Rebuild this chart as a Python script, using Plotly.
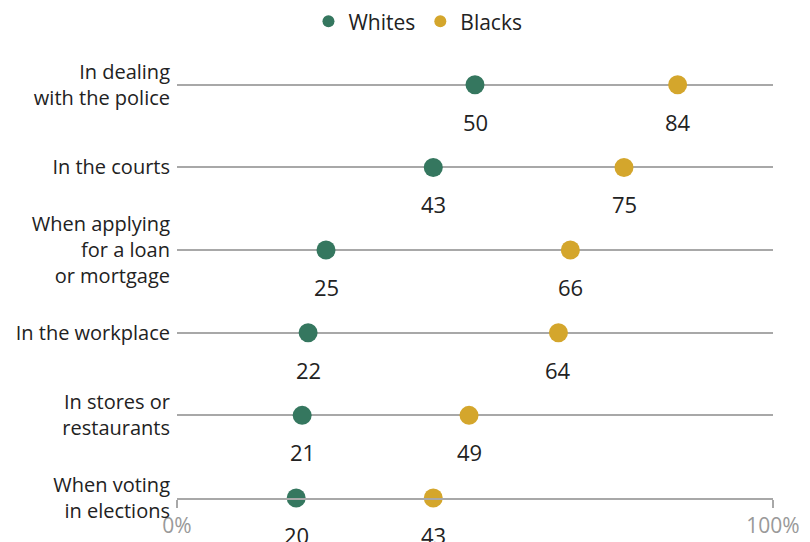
import plotly.graph_objects as go

categories = [
    "In dealing<br>with the police",
    "In the courts",
    "When applying<br>for a loan<br>or mortgage",
    "In the workplace",
    "In stores or<br>restaurants",
    "When voting<br>in elections",
]
whites = [50, 43, 25, 22, 21, 20]
blacks = [84, 75, 66, 64, 49, 43]
x_ticks = [0, 100]
x_ticklabels = ["0%", "100%"]

GREEN = "#35775F"
GOLD = "#D4A62C"
FONT = "Open Sans"

n = len(categories)
ypos = [n - 1 - i for i in range(n)]

fig = go.Figure()
fig.add_trace(go.Scatter(
    x=whites, y=ypos, mode="markers", name="Whites",
    marker=dict(color=GREEN, size=19), cliponaxis=False,
))
fig.add_trace(go.Scatter(
    x=blacks, y=ypos, mode="markers", name="Blacks",
    marker=dict(color=GOLD, size=19), cliponaxis=False,
))

annotations = []
for vals in (whites, blacks):
    for v, y in zip(vals, ypos):
        annotations.append(dict(
            x=v, y=y, text=str(v), showarrow=False, yshift=-37,
            font=dict(family=FONT, size=22, color="#222"),
        ))

fig.update_layout(
    width=810, height=542,
    margin=dict(l=177, r=37, t=60, b=44, autoexpand=False),
    plot_bgcolor="white", paper_bgcolor="white",
    font=dict(family=FONT, size=20, color="#222"),
    showlegend=True,
    legend=dict(
        orientation="h", xref="container", yref="container",
        x=0.516, y=0.96, xanchor="center", yanchor="middle",
        font=dict(size=21, color="#222"), itemwidth=30,
        itemsizing="constant",
    ),
    annotations=annotations,
)
fig.update_xaxes(
    range=[0, 100], tickvals=x_ticks, ticktext=x_ticklabels,
    showgrid=False, zeroline=False, showline=True, linecolor="#A8A8A8",
    linewidth=2, ticks="outside", ticklen=8, tickwidth=2, tickcolor="#A8A8A8",
    tickfont=dict(color="#999999", size=21, family=FONT), automargin=False,
)
fig.update_yaxes(
    range=[0, 5.3], tickvals=ypos, ticktext=categories,
    showgrid=True, gridcolor="#A8A8A8", gridwidth=2, zeroline=False,
    showline=False, ticks="", ticklabelstandoff=6,
    automargin=False,
    tickfont=dict(color="#222", size=20, family=FONT),
)

fig.write_html(
    "out.html",
    config={"displayModeBar": False},
    post_script="document.body.style.margin='0';document.body.style.overflow='hidden';",
)
